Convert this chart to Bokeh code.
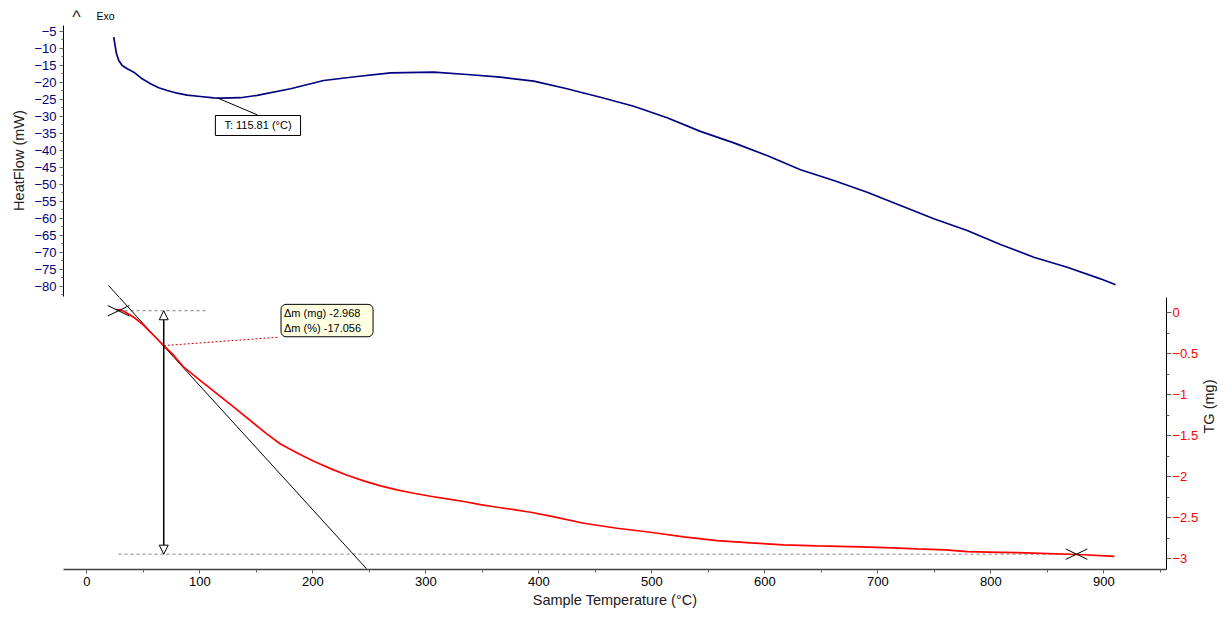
import math
from bokeh.plotting import figure
from bokeh.layouts import column
from bokeh.models import Range1d, LinearAxis, FixedTicker, Label, Arrow, NormalHead, Title
from bokeh.embed import file_html
from bokeh.resources import INLINE

# ---------------- data ----------------
hf_temp = [23.9, 24.8, 26.3, 28.3, 31.3, 35.8, 41.6, 49.0, 56.4, 63.7, 71.2, 80.0,
           88.8, 100.6, 112.4, 118.3, 136.0, 150.8, 180.3, 209.7, 239.3, 268.8,
           307.0, 336.6, 366.0, 395.6, 425.0, 437.0, 454.6, 484.0, 513.6, 543.0,
           572.6, 602.0, 631.6, 661.1, 690.6, 720.1, 749.6, 779.1, 808.6, 838.1,
           867.6, 897.1, 910.4]
hf_mw = [-6.68, -8.62, -11.57, -13.54, -15.01, -15.98, -16.98, -18.93, -20.4, -21.58,
         -22.37, -23.17, -23.76, -24.14, -24.52, -24.64, -24.5, -23.8, -21.87, -19.43,
         -18.25, -17.16, -16.98, -17.66, -18.46, -19.63, -21.87, -22.9, -24.35, -27.0,
         -30.4, -34.4, -37.8, -41.5, -45.7, -48.87, -52.32, -56.24, -60.16, -63.6,
         -67.73, -71.47, -74.41, -77.83, -79.6]

tg_temp = [25.4, 29.8, 34.2, 41.6, 49.0, 56.4, 68.1, 77.0, 85.8, 100.6, 130.1, 159.6,
           171.4, 186.2, 200.9, 215.7, 230.4, 245.1, 259.9, 274.6, 289.4, 304.2,
           318.9, 333.6, 348.4, 363.2, 377.9, 392.7, 410.4, 439.8, 469.3, 498.8,
           528.3, 557.8, 587.3, 616.8, 646.3, 684.7, 712.7, 734.8, 759.9, 779.1,
           808.1, 838.2, 882.4, 909.4]
tg_mg = [0.04, 0.037, 0.007, -0.054, -0.134, -0.237, -0.40, -0.52, -0.663, -0.826,
         -1.151, -1.48, -1.60, -1.71, -1.81, -1.90, -1.98, -2.05, -2.11, -2.159,
         -2.20, -2.237, -2.268, -2.301, -2.338, -2.371, -2.399, -2.432, -2.48, -2.566,
         -2.627, -2.676, -2.732, -2.777, -2.805, -2.83, -2.842, -2.854, -2.866, -2.878,
         -2.89, -2.911, -2.92, -2.93, -2.95, -2.97]

x_ticks = [0, 100, 200, 300, 400, 500, 600, 700, 800, 900]
x_minor = [50, 150, 250, 350, 450, 550, 650, 750, 850, 950]
hf_ticks = [-5, -10, -15, -20, -25, -30, -35, -40, -45, -50, -55, -60, -65, -70, -75, -80]
hf_minor = [-7.5, -12.5, -17.5, -22.5, -27.5, -32.5, -37.5, -42.5, -47.5, -52.5,
            -57.5, -62.5, -67.5, -72.5, -77.5, -82.5]
tg_ticks = [0, -0.5, -1, -1.5, -2, -2.5, -3]
tg_minor = [-0.25, -0.75, -1.25, -1.75, -2.25, -2.75]

# evaluation results
peak_temp = 115.81
peak_hf = -24.6
dm_temp = 68.1          # position of the mass-loss arrow
dm_start = 0.025        # TG level before the loss
dm_end = -2.943         # TG level after the loss
dm_mg = -2.968
dm_pct = -17.056
cross_temp = [28.1, 875.9]
cross_tg = [0.025, -2.943]
tangent_temp = [19.2, 247.5]
tangent_tg = [0.333, -3.12]
onset_tg = -0.40

FONT = "Liberation Sans"
NAVY = "#000080"

# ranges / panel geometry
X_LO, X_HI = -20.6, 955.5
HF_LO, HF_HI = -83.33, 2.656
TG_LO, TG_HI = -3.130, 0.1866
TOP_H, BOT_H = 297, 327
TOP_FRAME = TOP_H - 5          # frame height of the heat-flow panel
BOT_FRAME = BOT_H - 55         # frame height of the TG panel
HF_PX = TOP_FRAME / (HF_HI - HF_LO)
TG_PX = BOT_FRAME / (TG_HI - TG_LO)

xr = Range1d(X_LO, X_HI)


def style_axis(ax, label_color, tick_out, minor_out, standoff):
    ax.major_label_text_font = FONT
    ax.major_label_text_font_size = "13px"
    ax.major_label_text_color = label_color
    ax.major_label_standoff = standoff
    ax.axis_line_color = "black"
    ax.major_tick_line_color = "#606060"
    ax.minor_tick_line_color = "#606060"
    ax.major_tick_in = 0
    ax.major_tick_out = tick_out
    ax.minor_tick_in = 0
    ax.minor_tick_out = minor_out
    ax.axis_label_text_font = FONT
    ax.axis_label_text_font_size = "14.5px"
    ax.axis_label_text_font_style = "normal"
    ax.axis_label_text_color = "#202020"


# ================= upper panel: heat flow =================
pt = figure(width=1232, height=TOP_H, output_backend="svg", toolbar_location=None,
            x_range=xr, y_range=Range1d(HF_LO, HF_HI),
            x_axis_location=None, y_axis_location=None,
            min_border_left=63, min_border_right=66, min_border_top=5, min_border_bottom=0,
            background_fill_color="white", border_fill_color="white")
pt.outline_line_color = None
pt.xgrid.visible = False
pt.ygrid.visible = False

ha = LinearAxis(bounds=(-82.94, -3.23),
                ticker=FixedTicker(ticks=hf_ticks, minor_ticks=hf_minor))
style_axis(ha, NAVY, 4, 2, 3)
pt.add_layout(ha, "left")
pt.add_layout(Title(text="HeatFlow (mW)", align="right", offset=104.7, standoff=7,
                    vertical_align="middle", text_font=FONT, text_font_size="14.5px",
                    text_font_style="normal", text_color="#202020"), "left")

pt.line(hf_temp, hf_mw, line_color=NAVY, line_width=1.7)

# upper end of the onset tangent (drawn in heat-flow units of this panel)
pt.line(tangent_temp, [HF_LO + (v - TG_HI) * TG_PX / HF_PX for v in tangent_tg],
        line_color="black", line_width=1)

# peak annotation
pt.line([peak_temp, 150.8], [peak_hf, -29.53], line_color="black", line_width=1)
pt.add_layout(Label(x=151.5, y=-32.68,
                    text="T: %.2f (°C)" % peak_temp,
                    text_font=FONT, text_font_size="11px", text_color="black",
                    text_align="center", text_baseline="middle",
                    background_fill_color="white", border_line_color="black",
                    border_line_width=1,
                    padding=dict(left=9, right=9, top=4, bottom=4)))

# Exo indicator
pt.add_layout(Label(x=-9.1, y=-0.85, text="^",
                    text_font=FONT, text_font_size="18px", text_color="#303030",
                    text_align="center", text_baseline="alphabetic"))
pt.add_layout(Label(x=8.6, y=-0.58, text="Exo",
                    text_font=FONT, text_font_size="10.5px", text_color="black",
                    text_align="left", text_baseline="middle"))

# ================= lower panel: TG =================
pb = figure(width=1232, height=BOT_H, output_backend="svg", toolbar_location=None,
            x_range=xr, y_range=Range1d(TG_LO, TG_HI),
            x_axis_location="below", y_axis_location=None,
            min_border_left=63, min_border_right=66, min_border_top=0, min_border_bottom=55,
            background_fill_color="white", border_fill_color="white")
pb.outline_line_color = None
pb.xgrid.visible = False
pb.ygrid.visible = False

xa = pb.xaxis[0]
xa.ticker = FixedTicker(ticks=x_ticks, minor_ticks=x_minor)
style_axis(xa, "black", 4, 3, 3)
xa.axis_label = "Sample Temperature (°C)"
xa.axis_label_standoff = 3
xa.axis_line_color = "#404040"
xa.axis_line_width = 1.5

ta = LinearAxis(ticker=FixedTicker(ticks=tg_ticks, minor_ticks=tg_minor),
                axis_label="TG (mg)")
style_axis(ta, "red", 5, 3, 1)
ta.axis_label_standoff = 8
if "axis_label_orientation" in LinearAxis.properties():
    ta.axis_label_orientation = math.pi / 2
pb.add_layout(ta, "right")

pb.line([cross_temp[0], 106.0], [dm_start, dm_start], line_color="#808080",
        line_width=1, line_dash="3 3")
pb.line([cross_temp[0], cross_temp[1]], [dm_end, dm_end], line_color="#808080",
        line_width=1, line_dash="3 3")
pb.line(tangent_temp, tangent_tg, line_color="black", line_width=1)
pb.add_layout(Arrow(start=NormalHead(size=9, fill_color="white", line_color="black", line_width=1),
                    end=NormalHead(size=9, fill_color="white", line_color="black", line_width=1),
                    x_start=dm_temp, y_start=dm_start, x_end=dm_temp, y_end=dm_end,
                    line_color="black", line_width=1.5))
pb.line([dm_temp, 169.6], [onset_tg, -0.298], line_color="#d00000", line_width=1,
        line_dash="2 2")

pb.line(tg_temp, tg_mg, line_color="#ff0000", line_width=1.7)

pb.scatter(cross_temp, cross_tg, marker="dash", size=24, angle=0.45,
           line_color="black", line_width=1)
pb.scatter(cross_temp, cross_tg, marker="dash", size=24, angle=-0.45,
           line_color="black", line_width=1)

pb.add_layout(Label(x=171.9, y=0.103,
                    text="Δm (mg) %.3f\nΔm (%%) %.3f" % (dm_mg, dm_pct),
                    text_font=FONT, text_font_size="11px", text_color="black",
                    text_align="left", text_baseline="top",
                    background_fill_color="#ffffe1", border_line_color="black",
                    border_line_width=1, border_radius=5,
                    padding=dict(left=3, right=12, top=3, bottom=3)))

layout = column(pt, pb, spacing=0)
open("out.html", "w").write(file_html(layout, INLINE))
